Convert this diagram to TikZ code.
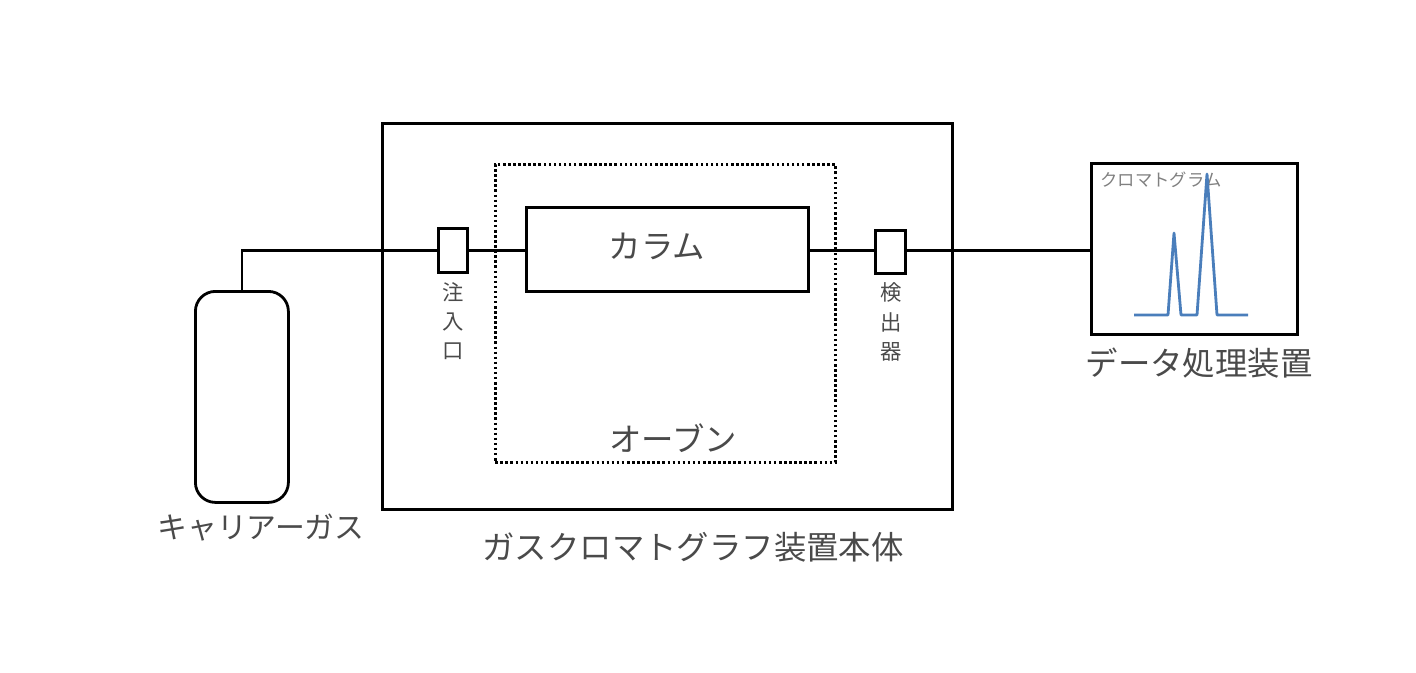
\documentclass[tikz,border=0pt]{standalone}
\usepackage{fontspec}
\setmainfont{Noto Sans CJK JP}
\definecolor{txt}{HTML}{4A4A4A}
\definecolor{peak}{HTML}{4A7EBB}
\tikzset{
  box/.style={draw=black,line width=2.1pt,inner sep=0pt,anchor=north west},
  dotbox/.style={draw=black,line width=1.9pt,dash pattern=on 1.9pt off 1.9pt,inner sep=0pt,anchor=north west},
  pipe/.style={draw=black,line width=2pt},
  lab/.style={text=txt,inner sep=0pt,font=\fontsize{24.3}{24.3}\selectfont},
  vlab/.style={text=txt,inner sep=0pt,align=center,font=\fontsize{16}{22}\selectfont},
  trace/.style={draw=peak,line width=2.1pt,line join=round}
}
\begin{document}
\begin{tikzpicture}[x=0.75pt,y=-0.75pt]
\useasboundingbox (1,1) rectangle (1417,673);
\node[box,minimum width=427.5pt,minimum height=289.5pt] (body) at (382,123) {};
\node[dotbox,minimum width=255pt,minimum height=223.5pt] (oven) at (495,164) {};
\node[box,minimum width=211.5pt,minimum height=63pt] (column) at (526,207) {};
\node[box,minimum width=21.75pt,minimum height=33pt] (inlet) at (438,228) {};
\node[box,minimum width=22.5pt,minimum height=32.25pt] (detector) at (875,230) {};
\node[box,minimum width=154.5pt,minimum height=128.25pt] (data) at (1091,163) {};
\node[box,rounded corners=15pt,minimum width=69.75pt,minimum height=158.25pt] (gas) at (195,291) {};
\coordinate (bend) at (gas.north |- inlet.west);
\draw[pipe] (gas.north) -- (bend) -- (inlet.west);
\draw[pipe] (inlet.east) -- (inlet.east -| column.west);
\draw[pipe] (column.east |- inlet.east) -- (detector.west |- inlet.east);
\draw[pipe] (detector.east |- inlet.east) -- (data.west |- inlet.east);
\node[lab] (columnlabel) at (658,247) {カラム};
\node[lab] (ovenlabel) at (674,439) {オーブン};
\node[lab,font=\fontsize{22.4}{22.4}\selectfont] (gaslabel) at (262,529) {キャリアーガス};
\node[lab] (bodylabel) at (694,548) {ガスクロマトグラフ装置本体};
\node[lab] (datalabel) at (1200,364) {データ処理装置};
\node[vlab] (inletlabel) at (454,322) {注\\入\\口};
\node[vlab] (detectorlabel) at (892,323) {検\\出\\器};
\node[lab,text=gray,font=\fontsize{13}{13}\selectfont] (chromlabel) at (1162,181) {クロマトグラム};
\draw[trace] (1135,316) -- (1169,316) -- (1175,234) -- (1182,316) -- (1198,316) -- (1208,175) -- (1218,316) -- (1249,316);
\end{tikzpicture}
\end{document}
